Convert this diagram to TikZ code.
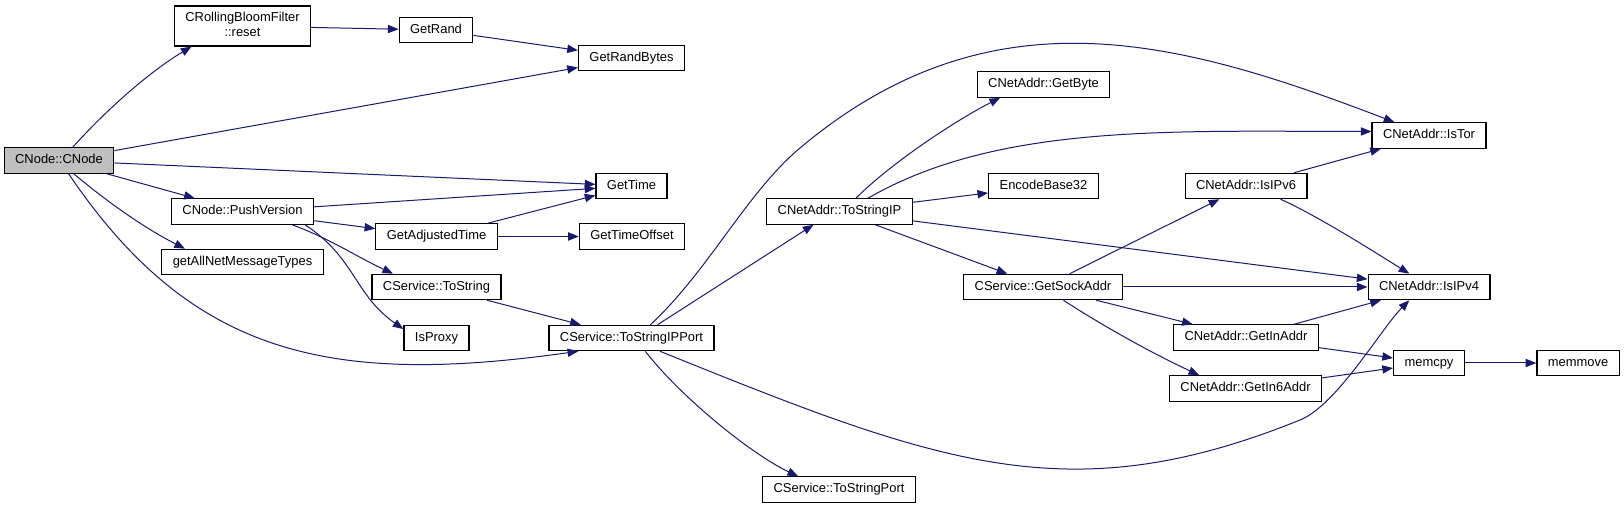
\documentclass[tikz,border=0pt]{standalone}
\usepackage{fontspec}
\setmainfont{Liberation Sans}
\usetikzlibrary{arrows.meta}
\definecolor{edgeblue}{HTML}{191970}
\definecolor{rootgray}{HTML}{BFBFBF}
\begin{document}
\begin{tikzpicture}[x=0.75pt, y=0.75pt,
  fn/.style={draw, line width=0.9pt, fill=white, inner xsep=8.2pt, inner ysep=2pt,
    minimum height=19pt, text height=7pt, text depth=2pt,
    font=\fontsize{9.7}{11.5}\selectfont, align=center},
  call/.style={draw=edgeblue, line width=0.75pt, -{Triangle[length=8pt,width=6.2pt]}}]
\useasboundingbox (0,0) rectangle (1624,-509);
\node[fn, fill=rootgray] (cnode) at (59,-160.5) {CNode::CNode};
\node[fn, minimum height=30pt, text height=18.5pt, text depth=2.5pt] (bloomreset) at (242.5,-26) {CRollingBloomFilter\\::reset};
\node[fn] (pushversion) at (242.5,-211.5) {CNode::PushVersion};
\node[fn] (getallmsg) at (242.5,-262) {getAllNetMessageTypes};
\node[fn] (getrand) at (436,-30) {GetRand};
\node[fn] (getadjtime) at (436.5,-236.5) {GetAdjustedTime};
\node[fn] (svctostring) at (436.5,-287) {CService::ToString};
\node[fn] (isproxy) at (436.5,-338) {IsProxy};
\node[fn] (getrandbytes) at (631.5,-58) {GetRandBytes};
\node[fn] (gettime) at (631.5,-186) {GetTime};
\node[fn] (gettimeoffset) at (632,-236.5) {GetTimeOffset};
\node[fn] (tostripport) at (631.5,-338) {CService::ToStringIPPort};
\node[fn] (tostrip) at (839.5,-211.5) {CNetAddr::ToStringIP};
\node[fn] (tostrport) at (839,-489.5) {CService::ToStringPort};
\node[fn] (getbyte) at (1043.5,-84.5) {CNetAddr::GetByte};
\node[fn] (encb32) at (1043.5,-186) {EncodeBase32};
\node[fn] (getsockaddr) at (1043,-287) {CService::GetSockAddr};
\node[fn] (isipv6) at (1246,-186) {CNetAddr::IsIPv6};
\node[fn] (getinaddr) at (1246,-337.5) {CNetAddr::GetInAddr};
\node[fn] (getin6addr) at (1245.5,-388.5) {CNetAddr::GetIn6Addr};
\node[fn] (istor) at (1429,-135.5) {CNetAddr::IsTor};
\node[fn] (isipv4) at (1429,-287) {CNetAddr::IsIPv4};
\node[fn] (memcpy) at (1429,-363) {memcpy};
\node[fn] (memmove) at (1578,-363) {memmove};
\coordinate (torbend) at (800,-148);
\coordinate (v4bend) at (1300,-420);

\draw[call] (cnode.44) .. controls +(48:50) and +(211:50) .. (bloomreset.202);
\draw[call] (bloomreset) -- (getrand);
\draw[call] (getrand) -- (getrandbytes);
\draw[call] (cnode) -- (getrandbytes);
\draw[call] (cnode) -- (gettime);
\draw[call] (cnode) -- (pushversion);
\draw[call] (cnode.-42) .. controls +(-40:45) and +(153:45) .. (getallmsg.167);
\draw[call] (cnode.-54) .. controls +(-56:220) and +(188:250) .. (tostripport.194);
\draw[call] (pushversion) -- (gettime);
\draw[call] (pushversion) -- (getadjtime);
\draw[call] (pushversion.-15) .. controls +(-20:40) and +(155:40) .. (svctostring.163);
\draw[call] (pushversion.-12) .. controls +(-33:60) and +(145:60) .. (isproxy.165);
\draw[call] (getadjtime) -- (gettime);
\draw[call] (getadjtime) -- (gettimeoffset);
\draw[call] (svctostring) -- (tostripport);
\draw[call] (tostripport.27) -- (tostrip.207);
\draw[call] (tostripport.35) .. controls +(43:80) and +(220:70) .. (torbend)
  .. controls +(40:250) and +(159:230) .. (istor.159);
\draw[call] (tostripport.-44) .. controls +(-52:60) and +(155:50) .. (tostrport.162);
\draw[call] (tostripport.-25) .. controls +(-22:300) and +(202:250) .. (v4bend)
  .. controls +(22:40) and +(225:40) .. (isipv4.214);
\draw[call] (tostrip.39) .. controls +(45:50) and +(207:50) .. (getbyte.197);
\draw[call] (tostrip.25) .. controls +(30:150) and +(180:200) .. (istor.176);
\draw[call] (tostrip) -- (encb32);
\draw[call] (tostrip) -- (isipv4);
\draw[call] (tostrip) -- (getsockaddr);
\draw[call] (getsockaddr) -- (isipv6);
\draw[call] (getsockaddr) -- (isipv4);
\draw[call] (getsockaddr) -- (getinaddr);
\draw[call] (getsockaddr.-33) .. controls +(-33:50) and +(155:50) .. (getin6addr.164);
\draw[call] (isipv6) -- (istor);
\draw[call] (isipv6.-21) .. controls +(-24:40) and +(148:40) .. (isipv4.146);
\draw[call] (getinaddr) -- (isipv4);
\draw[call] (getinaddr) -- (memcpy);
\draw[call] (getin6addr) -- (memcpy);
\draw[call] (memcpy) -- (memmove);
\end{tikzpicture}
\end{document}
